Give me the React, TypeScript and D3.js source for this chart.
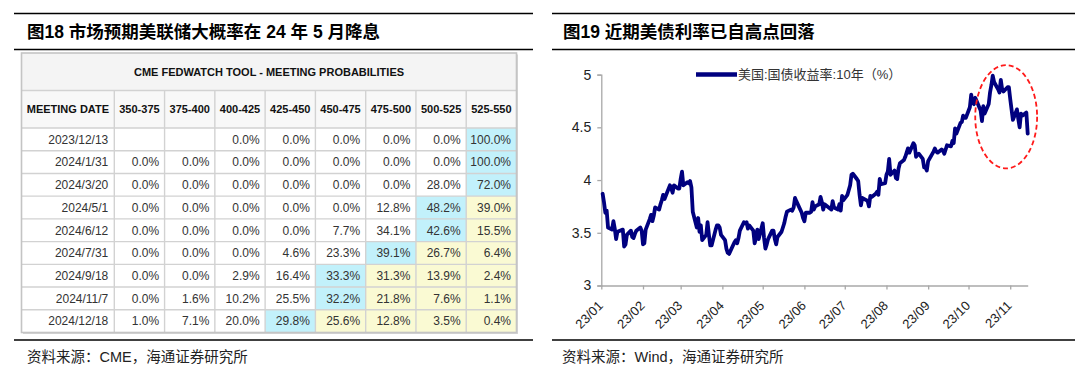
import React, { useEffect, useRef } from 'react';
import * as d3 from 'd3';

// ---- left panel: CME FedWatch table ----
const rateRanges = ['350-375', '375-400', '400-425', '425-450', '450-475', '475-500', '500-525', '525-550'];
const meetingDates = ['2023/12/13', '2024/1/31', '2024/3/20', '2024/5/1', '2024/6/12', '2024/7/31', '2024/9/18', '2024/11/7', '2024/12/18'];
const probabilities: (number | null)[][] = [
  [null, null, 0, 0, 0, 0, 0, 100],
  [0, 0, 0, 0, 0, 0, 0, 100],
  [0, 0, 0, 0, 0, 0, 28.0, 72.0],
  [0, 0, 0, 0, 0, 12.8, 48.2, 39.0],
  [0, 0, 0, 0, 7.7, 34.1, 42.6, 15.5],
  [0, 0, 0, 4.6, 23.3, 39.1, 26.7, 6.4],
  [0, 0, 2.9, 16.4, 33.3, 31.3, 13.9, 2.4],
  [0, 1.6, 10.2, 25.5, 32.2, 21.8, 7.6, 1.1],
  [1.0, 7.1, 20.0, 29.8, 25.6, 12.8, 3.5, 0.4],
];

// ---- right panel: US 10Y treasury yield, 2023 ----
const yieldDays = [
  '01-02', '01-03', '01-04', '01-05', '01-06', '01-09', '01-10', '01-11', '01-12', '01-13', '01-17', '01-18', '01-19', '01-20', '01-23', '01-24', '01-25', '01-26', '01-27', '01-30', '01-31',
  '02-01', '02-02', '02-03', '02-06', '02-07', '02-08', '02-09', '02-10', '02-13', '02-14', '02-15', '02-16', '02-17', '02-21', '02-22', '02-23', '02-24', '02-27', '02-28',
  '03-01', '03-02', '03-03', '03-06', '03-07', '03-08', '03-09', '03-10', '03-13', '03-14', '03-15', '03-16', '03-17', '03-20', '03-21', '03-22', '03-23', '03-24', '03-27', '03-28', '03-29', '03-30', '03-31',
  '04-03', '04-04', '04-05', '04-06', '04-10', '04-11', '04-12', '04-13', '04-14', '04-17', '04-18', '04-19', '04-20', '04-21', '04-24', '04-25', '04-26', '04-27', '04-28',
  '05-01', '05-02', '05-03', '05-04', '05-05', '05-08', '05-09', '05-10', '05-11', '05-12', '05-15', '05-16', '05-17', '05-18', '05-19', '05-22', '05-23', '05-24', '05-25', '05-26', '05-30', '05-31',
  '06-01', '06-02', '06-05', '06-06', '06-07', '06-08', '06-09', '06-12', '06-13', '06-14', '06-15', '06-16', '06-20', '06-21', '06-22', '06-23', '06-26', '06-27', '06-28', '06-29', '06-30',
  '07-03', '07-05', '07-06', '07-07', '07-10', '07-11', '07-12', '07-13', '07-14', '07-17', '07-18', '07-19', '07-20', '07-21', '07-24', '07-25', '07-26', '07-27', '07-28', '07-31',
  '08-01', '08-02', '08-03', '08-04', '08-07', '08-08', '08-09', '08-10', '08-11', '08-14', '08-15', '08-16', '08-17', '08-18', '08-21', '08-22', '08-23', '08-24', '08-25', '08-28', '08-29', '08-30', '08-31',
  '09-01', '09-05', '09-06', '09-07', '09-08', '09-11', '09-12', '09-13', '09-14', '09-15', '09-18', '09-19', '09-20', '09-21', '09-22', '09-25', '09-26', '09-27', '09-28', '09-29',
  '10-02', '10-03', '10-04', '10-05', '10-06', '10-10', '10-11', '10-12', '10-13', '10-16', '10-17', '10-18', '10-19', '10-20', '10-23', '10-24', '10-25', '10-26', '10-27', '10-30', '10-31',
  '11-01', '11-02', '11-03', '11-06', '11-07', '11-08', '11-09', '11-10', '11-13', '11-14',
];
const yieldValues = [
  3.87, 3.79, 3.69, 3.71, 3.55, 3.53, 3.61, 3.54, 3.44, 3.51, 3.53, 3.37, 3.39, 3.48, 3.52, 3.46, 3.45, 3.49, 3.52, 3.55, 3.52,
  3.39, 3.40, 3.53, 3.63, 3.67, 3.61, 3.66, 3.74, 3.72, 3.77, 3.81, 3.86, 3.82, 3.95, 3.92, 3.88, 3.95, 3.92, 3.92,
  4.01, 4.08, 3.95, 3.98, 3.97, 3.99, 3.93, 3.70, 3.55, 3.64, 3.51, 3.57, 3.43, 3.48, 3.60, 3.48, 3.38, 3.38, 3.53, 3.57, 3.57, 3.55, 3.48,
  3.43, 3.35, 3.31, 3.30, 3.41, 3.43, 3.40, 3.45, 3.52, 3.60, 3.59, 3.60, 3.54, 3.57, 3.52, 3.40, 3.45, 3.53, 3.44,
  3.59, 3.45, 3.35, 3.39, 3.44, 3.52, 3.52, 3.44, 3.39, 3.46, 3.51, 3.55, 3.59, 3.65, 3.70, 3.72, 3.71, 3.74, 3.83, 3.80, 3.69, 3.64,
  3.61, 3.69, 3.69, 3.70, 3.79, 3.72, 3.75, 3.77, 3.84, 3.79, 3.72, 3.77, 3.73, 3.72, 3.80, 3.74, 3.72, 3.77, 3.71, 3.85, 3.81,
  3.86, 3.95, 4.05, 4.06, 4.01, 3.99, 3.86, 3.76, 3.83, 3.81, 3.80, 3.75, 3.85, 3.84, 3.87, 3.89, 3.86, 4.01, 3.96, 3.97,
  4.05, 4.08, 4.20, 4.05, 4.09, 4.02, 4.01, 4.11, 4.16, 4.19, 4.22, 4.26, 4.30, 4.26, 4.35, 4.33, 4.22, 4.24, 4.25, 4.20, 4.12, 4.12, 4.09,
  4.18, 4.27, 4.30, 4.27, 4.26, 4.29, 4.28, 4.25, 4.29, 4.33, 4.32, 4.37, 4.35, 4.49, 4.44, 4.54, 4.55, 4.61, 4.59, 4.59,
  4.69, 4.81, 4.73, 4.72, 4.78, 4.66, 4.56, 4.70, 4.63, 4.72, 4.83, 4.90, 4.99, 4.93, 4.86, 4.83, 4.95, 4.86, 4.84, 4.88, 4.88,
  4.77, 4.67, 4.57, 4.67, 4.58, 4.50, 4.63, 4.61, 4.64, 4.44,
];
const monthTicks = ['01', '02', '03', '04', '05', '06', '07', '08', '09', '10', '11'];
const yTicks = [3, 3.5, 4, 4.5, 5];

const LATIN = "'Liberation Sans', Arial, 'Noto Sans CJK SC', sans-serif";
const CJK = "'Liberation Sans', 'Noto Sans CJK SC', sans-serif";

const toDate = (md: string) => {
  const [m, d] = md.split('-').map(Number);
  return new Date(2023, m - 1, d);
};

export default function App() {
  const ref = useRef<SVGSVGElement>(null);

  useEffect(() => {
    const svg = d3.select(ref.current);
    svg.selectAll('*').remove();

    // rules and titles
    const rules = svg.append('g').attr('stroke', '#000').attr('stroke-width', 1.6);
    [13.5, 49.5, 340].forEach(yy => {
      rules.append('line').attr('x1', 14).attr('x2', 533).attr('y1', yy).attr('y2', yy);
      rules.append('line').attr('x1', 552).attr('x2', 1075).attr('y1', yy).attr('y2', yy);
    });

    svg.append('text').attr('x', 27).attr('y', 37.5).attr('font-family', CJK).attr('font-weight', 700)
      .attr('font-size', 17.5).attr('fill', '#000').text('图18 市场预期美联储大概率在 24 年 5 月降息');
    svg.append('text').attr('x', 563).attr('y', 37.5).attr('font-family', CJK).attr('font-weight', 700)
      .attr('font-size', 17.5).attr('fill', '#000').text('图19 近期美债利率已自高点回落');

    svg.append('text').attr('x', 27).attr('y', 362).attr('font-family', CJK).attr('font-size', 14.5)
      .attr('fill', '#222').text('资料来源：CME，海通证券研究所');
    svg.append('text').attr('x', 562).attr('y', 362).attr('font-family', CJK).attr('font-size', 14.5)
      .attr('fill', '#222').text('资料来源：Wind，海通证券研究所');

    // ---------- table ----------
    const tLeft = 21.5, dateRight = 114.3, tRight = 516.5;
    const titleTop = 53, headTop = 90.5, bodyTop = 128, bodyBottom = 332.5;
    const colX = d3.scaleLinear().domain([0, rateRanges.length]).range([dateRight, tRight]);
    const rowY = d3.scaleBand().domain(meetingDates).range([bodyTop, bodyBottom]);
    const cw = colX(1) - colX(0);

    const tbl = svg.append('g');
    tbl.append('rect').attr('x', tLeft + 1.5).attr('y', titleTop + 1.5)
      .attr('width', tRight - tLeft).attr('height', bodyBottom - titleTop).attr('fill', '#d6d6d6');
    tbl.append('rect').attr('x', tLeft).attr('y', titleTop)
      .attr('width', tRight - tLeft).attr('height', bodyBottom - titleTop).attr('fill', '#fff');
    tbl.append('rect').attr('x', tLeft).attr('y', titleTop)
      .attr('width', tRight - tLeft).attr('height', headTop - titleTop).attr('fill', '#f4f4f4');
    tbl.append('rect').attr('x', tLeft).attr('y', headTop)
      .attr('width', tRight - tLeft).attr('height', bodyTop - headTop).attr('fill', '#f8f8f8');

    // highlighted cells: most likely range in cyan, higher ranges in yellow
    meetingDates.forEach((md, r) => {
      const row = probabilities[r].map(v => v ?? -1);
      const top = d3.maxIndex(row);
      row.forEach((_, c) => {
        if (c < top) return;
        tbl.append('rect').attr('x', colX(c)).attr('y', rowY(md)!)
          .attr('width', cw).attr('height', rowY.bandwidth())
          .attr('fill', c === top ? '#c2f1fb' : '#fafad3');
      });
    });

    const grid = tbl.append('g').attr('stroke', '#d2d2d2').attr('stroke-width', 1.4);
    [headTop, bodyTop, ...meetingDates.slice(1).map(md => rowY(md)!)].forEach(yy =>
      grid.append('line').attr('x1', tLeft).attr('x2', tRight).attr('y1', yy).attr('y2', yy));
    d3.range(rateRanges.length).forEach(c =>
      grid.append('line').attr('x1', colX(c)).attr('x2', colX(c)).attr('y1', headTop).attr('y2', bodyBottom));
    tbl.append('rect').attr('x', tLeft).attr('y', titleTop)
      .attr('width', tRight - tLeft).attr('height', bodyBottom - titleTop)
      .attr('fill', 'none').attr('stroke', '#c4c4c4').attr('stroke-width', 1.6);

    tbl.append('text').attr('x', (tLeft + tRight) / 2).attr('y', (titleTop + headTop) / 2 + 4)
      .attr('text-anchor', 'middle').attr('font-family', LATIN).attr('font-weight', 700)
      .attr('font-size', 11).attr('fill', '#111').text('CME FEDWATCH TOOL - MEETING PROBABILITIES');

    const headMid = (headTop + bodyTop) / 2 + 4;
    tbl.append('text').attr('x', (tLeft + dateRight) / 2).attr('y', headMid)
      .attr('text-anchor', 'middle').attr('font-family', LATIN).attr('font-weight', 700)
      .attr('font-size', 11).attr('fill', '#111').text('MEETING DATE');
    tbl.append('g').selectAll('text').data(rateRanges).join('text')
      .attr('x', (_, c) => colX(c) + cw / 2).attr('y', headMid)
      .attr('text-anchor', 'middle').attr('font-family', LATIN).attr('font-weight', 700)
      .attr('font-size', 11).attr('fill', '#111').text(d => d);

    const body = tbl.append('g').attr('font-family', LATIN).attr('font-size', 12).attr('fill', '#333')
      .attr('text-anchor', 'end');
    meetingDates.forEach((md, r) => {
      const yy = rowY(md)! + rowY.bandwidth() / 2 + 4.3;
      body.append('text').attr('x', dateRight - 6).attr('y', yy).text(md);
      probabilities[r].forEach((v, c) => {
        if (v === null) return;
        body.append('text').attr('x', colX(c + 1) - 5.5).attr('y', yy).text(v.toFixed(1) + '%');
      });
    });

    // ---------- line chart ----------
    const x = d3.scaleTime()
      .domain([new Date(2023, 0, 1), new Date(2023, 10, 14)])
      .range([601.3, 1027.7]);
    const y = d3.scaleLinear().domain([3, 5]).range([285.5, 74.6]);

    const yAxis = svg.append('g').attr('transform', 'translate(601.3,0)')
      .call(d3.axisLeft(y).tickValues(yTicks).tickSize(4).tickPadding(6).tickFormat(d => String(d)));
    yAxis.select('.domain').attr('stroke', '#a8a8a8').attr('stroke-width', 1.3);
    yAxis.selectAll('.tick line').attr('stroke', '#a8a8a8').attr('stroke-width', 1.3);
    yAxis.selectAll('.tick text').attr('font-family', LATIN).attr('font-size', 14).attr('fill', '#222');

    const xAxis = svg.append('g').attr('transform', 'translate(0,285.5)')
      .call(d3.axisBottom(x).tickValues(monthTicks.map(m => new Date(2023, +m - 1, 1)))
        .tickSize(4).tickSizeOuter(0).tickFormat(d => d3.timeFormat('%y/%m')(d as Date)));
    xAxis.select('.domain').attr('stroke', '#a8a8a8').attr('stroke-width', 1.3);
    xAxis.selectAll('.tick line').attr('stroke', '#a8a8a8').attr('stroke-width', 1.3);
    xAxis.selectAll('.tick text')
      .attr('font-family', LATIN).attr('font-size', 13).attr('fill', '#222')
      .attr('x', null).attr('y', null).attr('dy', null)
      .attr('text-anchor', 'end')
      .attr('transform', 'translate(2,21) rotate(-45)');

    const series = yieldDays.map((md, i) => ({ date: toDate(md), value: yieldValues[i] }));
    const line = d3.line<{ date: Date; value: number }>()
      .x(d => x(d.date))
      .y(d => y(d.value));
    svg.append('path').datum(series)
      .attr('fill', 'none').attr('stroke', '#00007f').attr('stroke-width', 3.8)
      .attr('stroke-linejoin', 'round').attr('stroke-linecap', 'round')
      .attr('d', line);

    // legend
    svg.append('line').attr('x1', 696).attr('x2', 737).attr('y1', 74.5).attr('y2', 74.5)
      .attr('stroke', '#00007f').attr('stroke-width', 4.5);
    svg.append('text').attr('x', 738).attr('y', 79).attr('font-family', CJK).attr('font-size', 13)
      .attr('fill', '#333').text('美国:国债收益率:10年（%）');

    // red dashed circle around the recent peak
    const cDate = new Date(2023, 9, 29);
    const rx = x(d3.timeDay.offset(cDate, 23)) - x(cDate);
    svg.append('ellipse')
      .attr('cx', x(cDate)).attr('cy', y(4.6))
      .attr('rx', rx).attr('ry', y(4.6) - y(5.09))
      .attr('fill', 'none').attr('stroke', '#ff1a1a').attr('stroke-width', 1.8)
      .attr('stroke-dasharray', '5,3');
  }, []);

  return (
    <svg ref={ref} width={1080} height={371}
      style={{ position: 'absolute', left: 0, top: 0, background: '#fff' }} />
  );
}
